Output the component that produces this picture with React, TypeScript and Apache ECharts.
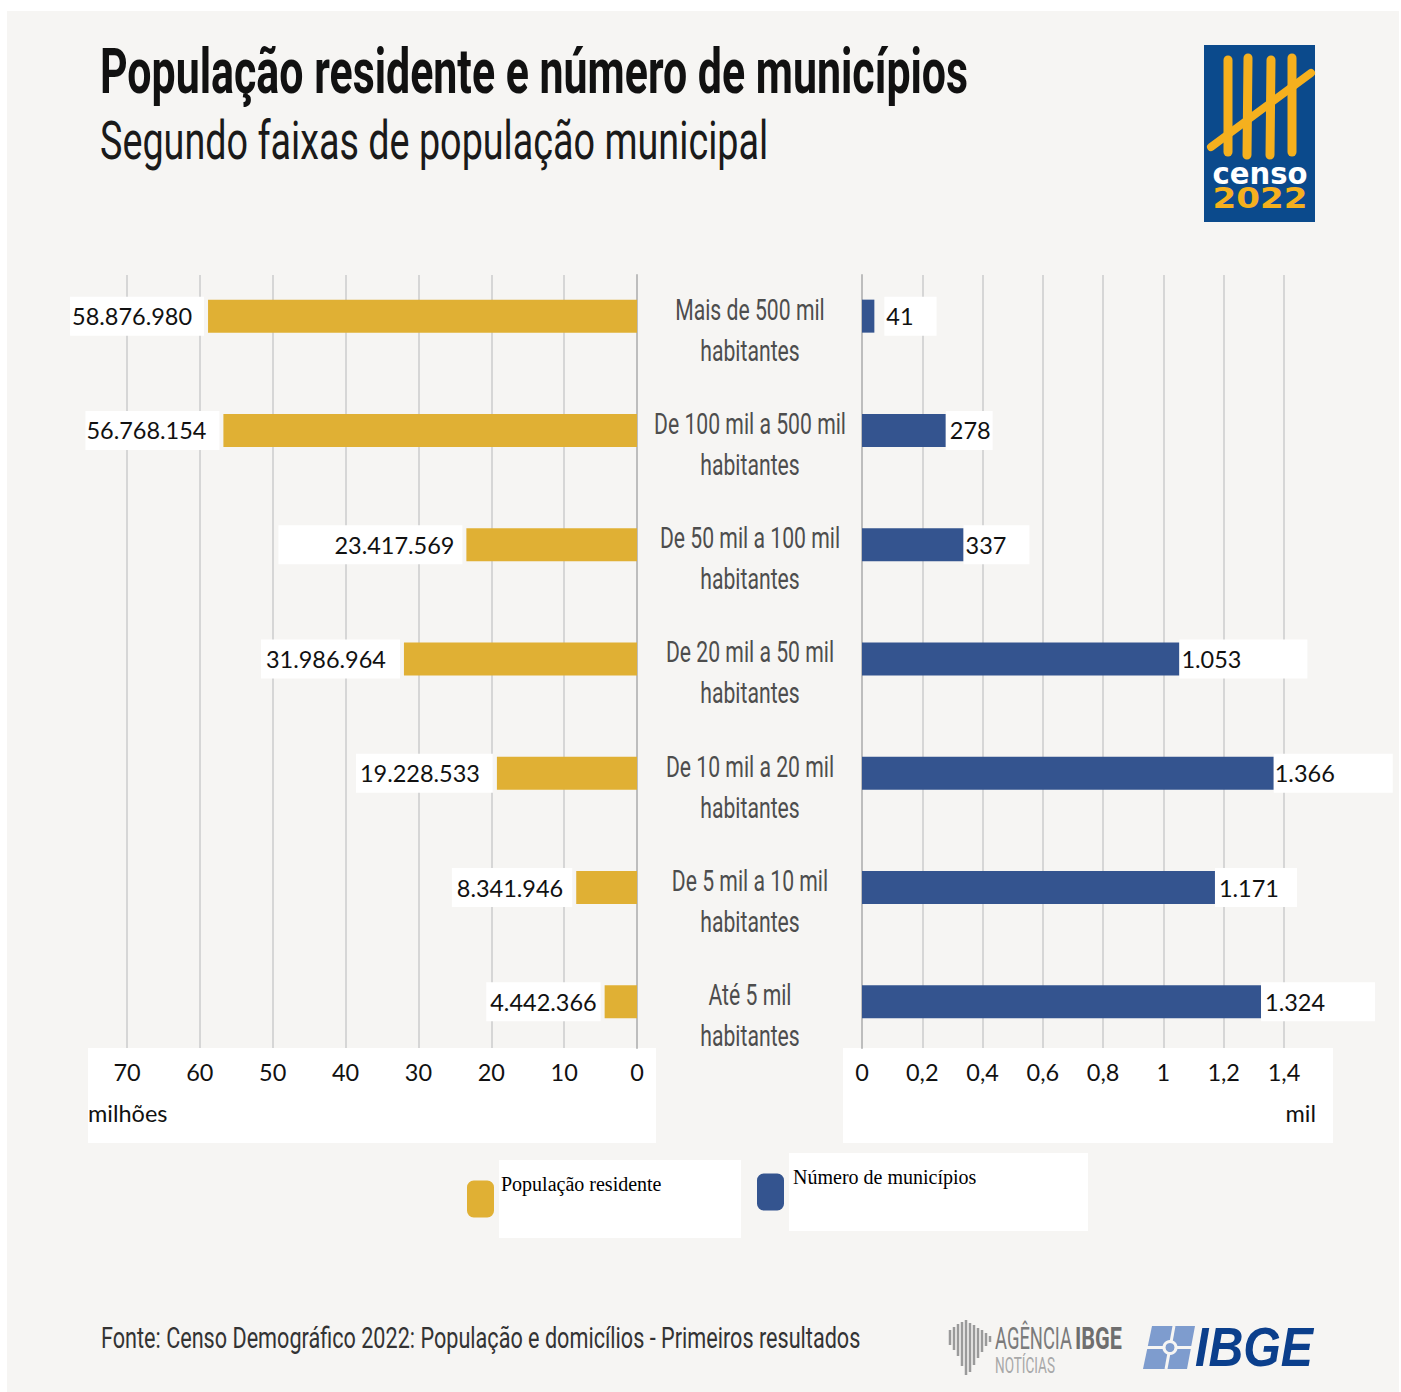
import React, { useEffect, useRef } from "react";
import * as echarts from "echarts";

const TITLE = "População residente e número de municípios";
const SUBTITLE = "Segundo faixas de população municipal";
const SOURCE = "Fonte: Censo Demográfico 2022: População e domicílios - Primeiros resultados";

const categories = [
  "Mais de 500 mil\nhabitantes",
  "De 100 mil a 500 mil\nhabitantes",
  "De 50 mil a 100 mil\nhabitantes",
  "De 20 mil a 50 mil\nhabitantes",
  "De 10 mil a 20 mil\nhabitantes",
  "De 5 mil a 10 mil\nhabitantes",
  "Até 5 mil\nhabitantes",
];
const populationValues = [58876980, 56768154, 23417569, 31986964, 19228533, 8341946, 4442366];
const municipalityValues = [41, 278, 337, 1053, 1366, 1171, 1324];
const seriesNames = ["População residente", "Número de municípios"];
const popAxisMax = 70;
const popAxisStep = 10;
const munAxisMax = 1.4;
const munAxisStep = 0.2;
const leftUnit = "milhões";
const rightUnit = "mil";

const GOLD = "#E0B034";
const BLUE = "#34548F";

// label box paddings (left, right) — style only
const leftLabelPadX = [[2, 12], [1, 13], [56, 8], [5, 14], [4, 13], [5, 9], [4, 4]];
const rightLabelPadX = [[2, 23], [4, 2], [2, 23], [2, 66], [1, 58], [4, 18], [4, 50]];
const rightLabelDist = [10, 0, 0, 0, 0, 0, 0];

const fmtThousands = (n: number) => String(n).replace(/\B(?=(\d{3})+(?!\d))/g, ".");

export default function App() {
  const ref = useRef<HTMLDivElement>(null);
  useEffect(() => {
    const el = ref.current!;
    const chart = echarts.init(el, null, { renderer: "svg", width: 1401, height: 1392 });
    const canvas = document.createElement("canvas");
    const ctx = canvas.getContext("2d")!;
    const mw = (t: string, f: string) => {
      ctx.font = f;
      return ctx.measureText(t).width;
    };
    const probe = "abcdefghijklmnopqrstuvwxyz 0123456789";
    const hasNarrow = mw(probe, '30px "Liberation Sans Narrow", monospace') !== mw(probe, "30px monospace");
    const condensed = hasNarrow ? '"Liberation Sans Narrow"' : "Roboto";
    const numFont = hasNarrow ? '"Liberation Sans Narrow"' : "Lato";
    const numSize = Math.min(30, (30 * 120) / mw("58.876.980", `30px ${numFont}`));
    const vPad = Math.max(3, Math.round((40 - numSize) / 2));
    const fit = (text: string, family: string, size: number, weight: string, target: number) =>
      target / mw(text, `${weight} ${size}px ${family}`);

    const txt = (
      text: string,
      x: number,
      y: number,
      family: string,
      size: number,
      weight: string,
      fill: string,
      target: number | null,
      align = "left",
      extra: any = {}
    ) => ({
      type: "text",
      x,
      y,
      scaleX: target ? fit(text, family, size, weight, target) : 1,
      z: 20,
      style: {
        text,
        fontFamily: family,
        fontSize: size,
        fontWeight: weight,
        fill,
        align,
        verticalAlign: "middle",
        textAlign: align,
        textVerticalAlign: "middle",
        ...extra,
      },
    });

    const gridLineColor = "#D6D6D6";
    const zeroLineColor = "#BDBDBD";
    const tickLabel = {
      show: true,
      color: "#111",
      fontFamily: numFont,
      fontSize: numSize,
      margin: Math.round(24 - numSize / 2),
    };

    const legendRich = {
      a: { fontFamily: "Liberation Serif", fontSize: 20, color: "#000", lineHeight: 24 },
      b: { fontFamily: "Liberation Serif", fontSize: 20, color: "#000", lineHeight: 42 },
    };

    const option: any = {
      animation: false,
      backgroundColor: "transparent",
      grid: [
        { left: 127, right: 764, top: 275, height: 773 },
        { left: 127, right: 764, top: 259, height: 800 },
        { left: 862, right: 117, top: 275, height: 773 },
        { left: 862, right: 117, top: 259, height: 800 },
      ],
      xAxis: [
        {
          gridIndex: 0,
          type: "value",
          min: 0,
          max: popAxisMax,
          interval: popAxisStep,
          inverse: true,
          axisLine: { show: false },
          axisTick: { show: false },
          splitLine: { show: true, lineStyle: { color: gridLineColor, width: 2 } },
          axisLabel: tickLabel,
        },
        {
          gridIndex: 1,
          type: "value",
          min: 0,
          max: popAxisMax,
          inverse: true,
          show: false,
          splitLine: { show: false },
        },
        {
          gridIndex: 2,
          type: "value",
          min: 0,
          max: munAxisMax,
          interval: munAxisStep,
          axisLine: { show: false },
          axisTick: { show: false },
          splitLine: { show: true, lineStyle: { color: gridLineColor, width: 2 } },
          axisLabel: {
            ...tickLabel,
            formatter: (v: number) => String(Math.round(v * 10) / 10).replace(".", ","),
          },
        },
        {
          gridIndex: 3,
          type: "value",
          min: 0,
          max: munAxisMax,
          show: false,
          splitLine: { show: false },
        },
      ],
      yAxis: [
        {
          gridIndex: 0,
          type: "value",
          min: 0,
          max: 1,
          position: "right",
          axisLine: { show: true, lineStyle: { color: zeroLineColor, width: 2 } },
          axisTick: { show: false },
          axisLabel: { show: false },
          splitLine: { show: false },
        },
        { gridIndex: 1, type: "category", data: categories, inverse: true, show: false },
        {
          gridIndex: 2,
          type: "value",
          min: 0,
          max: 1,
          position: "left",
          axisLine: { show: true, lineStyle: { color: zeroLineColor, width: 2 } },
          axisTick: { show: false },
          axisLabel: { show: false },
          splitLine: { show: false },
        },
        { gridIndex: 3, type: "category", data: categories, inverse: true, show: false },
      ],
      legend: [
        {
          data: [seriesNames[0]],
          left: 467,
          top: 1160,
          padding: 0,
          itemWidth: 27,
          itemHeight: 37,
          icon: "roundRect",
          selectedMode: false,
          formatter: (name: string) => `{a|${name}}\n{b| }`,
          textStyle: {
            fontFamily: "Liberation Serif",
            fontSize: 20,
            color: "#000",
            backgroundColor: "#fff",
            width: 240,
            padding: [12, 0, 0, 2],
            rich: legendRich,
          },
        },
        {
          data: [seriesNames[1]],
          left: 757,
          top: 1153,
          padding: 0,
          itemWidth: 27,
          itemHeight: 37,
          icon: "roundRect",
          selectedMode: false,
          formatter: (name: string) => `{a|${name}}\n{b| }`,
          textStyle: {
            fontFamily: "Liberation Serif",
            fontSize: 20,
            color: "#000",
            backgroundColor: "#fff",
            width: 295,
            padding: [12, 0, 0, 4],
            rich: legendRich,
          },
        },
      ],
      series: [
        {
          name: seriesNames[0],
          type: "bar",
          xAxisIndex: 1,
          yAxisIndex: 1,
          barWidth: 33,
          itemStyle: { color: GOLD },
          data: populationValues.map((v, i) => ({
            value: v / 1e6,
            label: { padding: [vPad, leftLabelPadX[i][1], vPad, leftLabelPadX[i][0]] },
          })),
          label: {
            show: true,
            position: "left",
            distance: 4,
            formatter: (p: any) => fmtThousands(populationValues[p.dataIndex]),
            color: "#111",
            fontFamily: numFont,
            fontSize: numSize,
            backgroundColor: "#fff",
          },
        },
        {
          name: seriesNames[1],
          type: "bar",
          xAxisIndex: 3,
          yAxisIndex: 3,
          barWidth: 33,
          itemStyle: { color: BLUE },
          data: municipalityValues.map((v, i) => ({
            value: v / 1000,
            label: {
              distance: rightLabelDist[i],
              padding: [vPad, rightLabelPadX[i][1], vPad, rightLabelPadX[i][0]],
            },
          })),
          label: {
            show: true,
            position: "right",
            distance: 0,
            formatter: (p: any) => fmtThousands(municipalityValues[p.dataIndex]),
            color: "#111",
            fontFamily: numFont,
            fontSize: numSize,
            backgroundColor: "#fff",
          },
        },
      ],
    };

    chart.setOption(option);

    const catScale = fit("De 100 mil a 500 mil", condensed, 30, "normal", 192);
    const catTexts: any[] = [];
    categories.forEach((c, i) => {
      const yc = chart.convertToPixel({ yAxisIndex: 3 }, i) as number;
      const lines = c.split("\n");
      lines.forEach((ln, j) => {
        catTexts.push({
          type: "text",
          x: 750,
          y: yc - 7 + j * 41,
          scaleX: catScale,
          z: 20,
          style: {
            text: ln,
            fontFamily: condensed,
            fontSize: 30,
            fontWeight: "normal",
            fill: "#4D4D4D",
            align: "center",
            verticalAlign: "middle",
            textAlign: "center",
            textVerticalAlign: "middle",
          },
        });
      });
    });

    const agLines = [
      [950, 1330, 1345],
      [954, 1327, 1350],
      [958, 1324, 1356],
      [962, 1322, 1366],
      [966, 1320, 1375],
      [970, 1323, 1372],
      [974, 1325, 1365],
      [978, 1328, 1358],
      [982, 1330, 1352],
      [986, 1333, 1346],
      [990, 1336, 1342],
    ];

    const graphics: any[] = [
      { type: "rect", z: -100, shape: { x: 7, y: 11, width: 1392, height: 1381 }, style: { fill: "#F6F5F3" } },
      { type: "rect", z: -50, shape: { x: 88, y: 1048, width: 568, height: 95 }, style: { fill: "#FFFFFF" } },
      { type: "rect", z: -50, shape: { x: 843, y: 1048, width: 490, height: 95 }, style: { fill: "#FFFFFF" } },
      txt(TITLE, 100, 71, condensed, 63, "bold", "#111", 868),
      txt(SUBTITLE, 100, 141, condensed, 53, "normal", "#1A1A1A", 668),
      txt(SOURCE, 101, 1338, condensed, 30, "normal", "#333", 760),
      txt(leftUnit, 88, 1113, numFont, numSize, "normal", "#111", null),
      txt(rightUnit, 1316, 1113, numFont, numSize, "normal", "#111", null, "right"),
      ...catTexts,
      // Censo 2022 logo
      { type: "rect", z: 10, shape: { x: 1204, y: 45, width: 111, height: 177 }, style: { fill: "#0B4A8C" } },
      ...[
        [1228, 60, 1228, 152],
        [1248, 58, 1247, 155],
        [1271, 60, 1270, 155],
        [1292, 58, 1292, 152],
      ].map((l) => ({
        type: "line",
        z: 11,
        shape: { x1: l[0], y1: l[1], x2: l[2], y2: l[3] },
        style: { stroke: "#F5B01E", lineWidth: 9, lineCap: "round" },
      })),
      {
        type: "line",
        z: 12,
        shape: { x1: 1211, y1: 147, x2: 1311, y2: 73 },
        style: { stroke: "#F5B01E", lineWidth: 8, lineCap: "round" },
      },
      txt("censo", 1260, 174, "DejaVu Sans", 30, "bold", "#FFFFFF", 95, "center"),
      txt("2022", 1260, 198, "DejaVu Sans", 28, "bold", "#F5B01E", 95, "center"),
      // Agência IBGE logo
      ...agLines.map((l) => ({
        type: "line",
        z: 11,
        shape: { x1: l[0], y1: l[1], x2: l[0], y2: l[2] },
        style: { stroke: "#9A9A9A", lineWidth: 2.5 },
      })),
      txt("AGÊNCIA", 995, 1338, condensed, 32, "normal", "#7B7B7B", 77),
      txt("IBGE", 1075, 1338, condensed, 32, "bold", "#6E6E6E", 47),
      txt("NOTÍCIAS", 995, 1365, condensed, 22, "normal", "#A8A8A8", 60),
      // IBGE logo
      {
        type: "polygon",
        z: 11,
        shape: { points: [[1152, 1326], [1195, 1326], [1187, 1369], [1143, 1369]] },
        style: { fill: "#7E9CCE" },
      },
      { type: "line", z: 12, shape: { x1: 1145, y1: 1347.5, x2: 1192, y2: 1347.5 }, style: { stroke: "#F6F5F3", lineWidth: 3 } },
      { type: "line", z: 12, shape: { x1: 1174, y1: 1326, x2: 1166, y2: 1369 }, style: { stroke: "#F6F5F3", lineWidth: 3 } },
      { type: "circle", z: 13, shape: { cx: 1170, cy: 1347.5, r: 6 }, style: { fill: "#7E9CCE", stroke: "#F6F5F3", lineWidth: 3 } },
      txt("IBGE", 1195, 1347, "Liberation Sans", 56, "bold", "#0B3F8C", 118, "left", { fontStyle: "italic" }),
    ];

    chart.setOption({ graphic: graphics });

    return () => chart.dispose();
  }, []);

  return (
    <div
      ref={ref}
      style={{ width: 1401, height: 1392, position: "absolute", left: 0, top: 0, background: "#FFFFFF" }}
    />
  );
}
